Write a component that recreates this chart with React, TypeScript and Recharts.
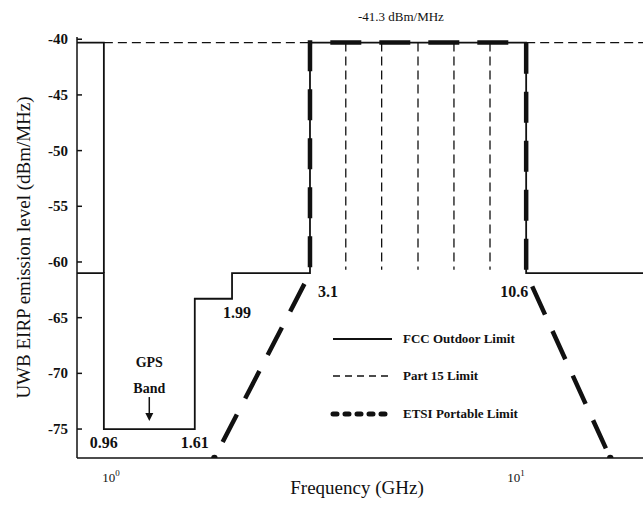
import { LineChart, Line, XAxis, YAxis, ReferenceDot, Legend } from 'recharts'

/* ---------- data ---------- */

const X_DOMAIN = [0.824, 20.6]
const Y_DOMAIN = [-77.6, -39.8]
const X_TICKS = [1, 10]
const Y_TICKS = [-75, -70, -65, -60, -55, -50, -45, -40]

// FCC outdoor mask: frequency (GHz) / level (dBm/MHz)
const FCC_FREQ = [0.824, 0.96, 0.96, 1.61, 1.61, 1.99, 1.99, 3.1, 3.1, 10.6, 10.6, 20.6]
const FCC_LEVEL = [-61, -61, -75, -75, -63.3, -63.3, -61, -61, -40.3, -40.3, -61, -61]

// solid piece at the top, left of 0.96 GHz
const TOP_LEFT_FREQ = [0.824, 0.96, 0.96]
const TOP_LEFT_LEVEL = [-40.3, -40.3, -61]

// Part 15
const PART15_LEVEL = -40.3
const PART15_SPANS = [[0.96, 3.1], [10.6, 20.6]]
const PART15_DROPS = [3.8, 4.66, 5.73, 7.03, 8.63]
const PART15_DROP_END = -60.7

// ETSI portable
const ETSI_FREQ = [1.8, 3.1, 3.1, 10.6, 10.6, 17.1]
const ETSI_LEVEL = [-77.6, -61, -40.3, -40.3, -61, -77.6]

const LEGEND_NAMES = ['FCC Outdoor Limit', 'Part 15 Limit', 'ETSI Portable Limit']

/* ---------- helpers ---------- */

const SERIF = '"Liberation Serif", "DejaVu Serif", serif'
const INK = '#111'

const zip = (xs: number[], ys: (number | null)[]) => xs.map((x, i) => ({ x, y: ys[i] }))

const fccData = zip(FCC_FREQ, FCC_LEVEL)
const topLeftData = zip(TOP_LEFT_FREQ, TOP_LEFT_LEVEL)
const part15Data = [
  ...PART15_SPANS.flatMap(([a, b]) => [
    { x: a, y: PART15_LEVEL }, { x: b, y: PART15_LEVEL }, { x: b, y: null },
  ]),
  ...PART15_DROPS.flatMap(f => [
    { x: f, y: PART15_LEVEL }, { x: f, y: PART15_DROP_END }, { x: f, y: null },
  ]),
]
const etsiData = zip(ETSI_FREQ, ETSI_LEVEL)

function YTick({ x, y, payload }: any) {
  return (
    <g>
      <line x1={x} x2={x + 5} y1={y} y2={y} stroke={INK} strokeWidth={1.5} />
      <text x={x - 9} y={y + 5} textAnchor="end" fontFamily={SERIF} fontSize={15} fontWeight={700} fill={INK}>
        {payload.value}
      </text>
    </g>
  )
}

function XTick({ x, y, payload }: any) {
  const exp = Math.round(Math.log10(payload.value))
  return (
    <text x={x} y={y + 24} textAnchor="middle" fontFamily={SERIF} fontSize={13} fill={INK}>
      10<tspan fontSize={9} dy={-6}>{exp}</tspan>
    </text>
  )
}

const note = (text: string, dx: number, dy: number, size = 16, weight = 700) =>
  ({ viewBox }: any) => (
    <text x={viewBox.x + dx} y={viewBox.y + dy} textAnchor="middle" fontFamily={SERIF}
      fontSize={size} fontWeight={weight} fill={INK}>
      {text}
    </text>
  )

function gpsNote({ viewBox }: any) {
  const { x, y } = viewBox
  return (
    <g fontFamily={SERIF} fontSize={14} fontWeight={700} fill={INK} textAnchor="middle">
      <text x={x} y={y - 62}>GPS</text>
      <text x={x} y={y - 36}>Band</text>
      <line x1={x} x2={x} y1={y - 32} y2={y - 14} stroke={INK} strokeWidth={1.5} />
      <path d={`M${x - 4},${y - 16} L${x + 4},${y - 16} L${x},${y - 8} Z`} fill={INK} />
    </g>
  )
}

const SAMPLE = [
  { strokeWidth: 1.8 },
  { strokeWidth: 1.3, strokeDasharray: '7 5' },
  { strokeWidth: 5, strokeDasharray: '4 8', strokeLinecap: 'round' as const },
]

function LegendBox() {
  return (
    <div style={{ fontFamily: SERIF, fontSize: 13, fontWeight: 700, color: INK }}>
      {LEGEND_NAMES.map((n, i) => (
        <div key={n} style={{ display: 'flex', alignItems: 'center', height: 37.5 }}>
          <svg width={64} height={10}>
            <line x1={3} x2={62} y1={5} y2={5} stroke={INK} {...SAMPLE[i]} />
          </svg>
          <span style={{ marginLeft: 9 }}>{n}</span>
        </div>
      ))}
    </div>
  )
}

const etsiDot = (p: any) =>
  p.index === 0 || p.index === ETSI_FREQ.length - 1
    ? <circle key={p.index} cx={p.cx} cy={p.cy} r={3.2} fill={INK} />
    : <g key={p.index} />

/* ---------- chart ---------- */

export default function App() {
  return (
    <div style={{ position: 'absolute', left: 0, top: 0, width: 643, height: 505, background: '#fff' }}>
      <LineChart width={643} height={505} margin={{ top: 37, right: 0, bottom: 0, left: 0 }}>
        <XAxis
          type="number" dataKey="x" scale="log" domain={X_DOMAIN} ticks={X_TICKS} interval={0}
          allowDataOverflow height={47} tickSize={0} tickMargin={0} tickLine={false} tick={XTick}
          axisLine={{ stroke: INK, strokeWidth: 1.5 }}
          label={{
            content: ({ viewBox }: any) => (
              <text x={viewBox.x + viewBox.width / 2 - 3} y={viewBox.y + 36} textAnchor="middle"
                fontFamily={SERIF} fontSize={19} fill={INK}>
                Frequency (GHz)
              </text>
            ),
          }}
        />
        <YAxis
          type="number" domain={Y_DOMAIN} ticks={Y_TICKS} interval={0} allowDataOverflow
          width={77} tickSize={0} tickMargin={0} tickLine={false} tick={YTick}
          axisLine={{ stroke: INK, strokeWidth: 1.5 }}
          label={{
            content: ({ viewBox }: any) => {
              const cx = viewBox.x + 23
              const cy = viewBox.y + viewBox.height / 2
              return (
                <text x={cx} y={cy} transform={`rotate(-90 ${cx} ${cy})`} textAnchor="middle"
                  dominantBaseline="central" fontFamily={SERIF} fontSize={19} fill={INK}>
                  UWB EIRP emission level (dBm/MHz)
                </text>
              )
            },
          }}
        />
        <Line data={etsiData} dataKey="y" name={LEGEND_NAMES[2]} stroke={INK} strokeWidth={4.5}
          strokeDasharray="31 18" strokeDashoffset={31} dot={etsiDot} activeDot={false}
          isAnimationActive={false} />
        <Line data={part15Data} dataKey="y" name={LEGEND_NAMES[1]} stroke={INK} strokeWidth={1.3}
          strokeDasharray="9 5" dot={false} activeDot={false} isAnimationActive={false} />
        <Line data={topLeftData} dataKey="y" legendType="none" stroke={INK} strokeWidth={1.8}
          dot={false} activeDot={false} isAnimationActive={false} />
        <Line data={fccData} dataKey="y" name={LEGEND_NAMES[0]} stroke={INK} strokeWidth={1.8}
          dot={false} activeDot={false} isAnimationActive={false} />

        <ReferenceDot x={5.2} y={-40.3} r={0} label={note('-41.3 dBm/MHz', 0, -22, 13, 400)} />
        <ReferenceDot x={3.1} y={-61} r={0} label={note('3.1', 18, 24)} />
        <ReferenceDot x={10.6} y={-61} r={0} label={note('10.6', -12, 24)} />
        <ReferenceDot x={1.99} y={-63.3} r={0} label={note('1.99', 5, 19)} />
        <ReferenceDot x={0.96} y={-75} r={0} label={note('0.96', 0, 19)} />
        <ReferenceDot x={1.61} y={-75} r={0} label={note('1.61', 0, 19)} />
        <ReferenceDot x={1.243} y={-75} r={0} label={gpsNote} />

        <Legend layout="vertical" align="center" verticalAlign="middle" content={() => <LegendBox />}
          wrapperStyle={{ left: 330, top: 320, width: 220, height: 'auto' }} />
      </LineChart>
    </div>
  )
}
